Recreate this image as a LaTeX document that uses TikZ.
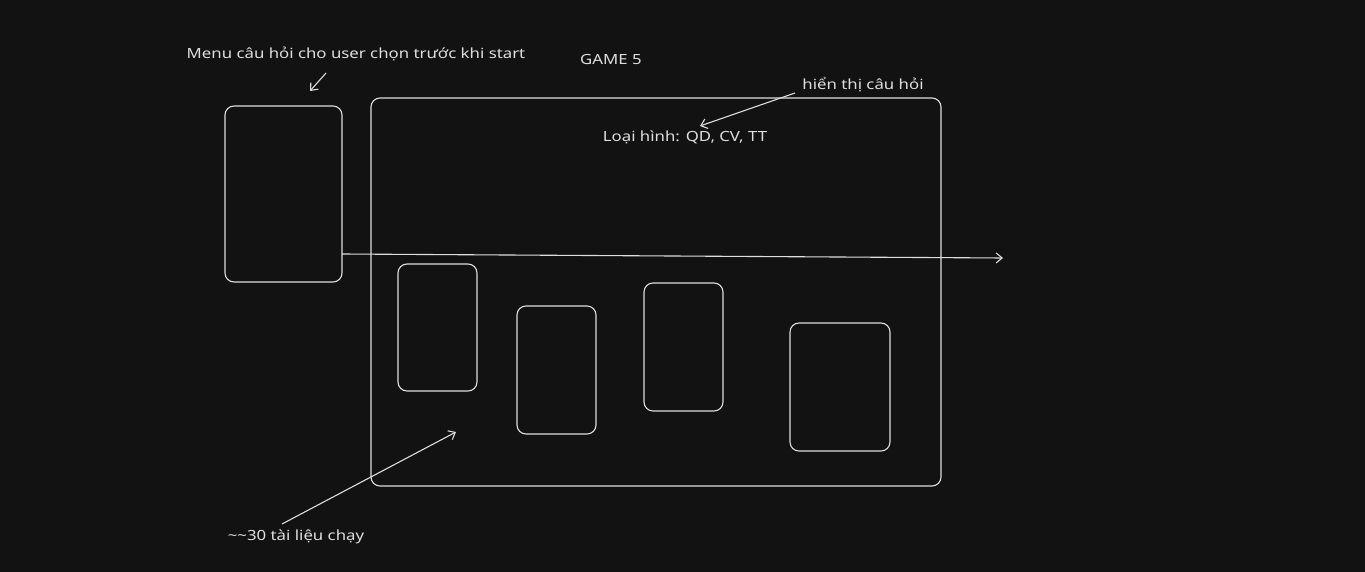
\documentclass[tikz,border=0pt]{standalone}
\usepackage{fontspec}
\setmainfont{Noto Sans}
\usetikzlibrary{arrows.meta}
\definecolor{bg}{HTML}{121212}
\definecolor{ink}{HTML}{DEDEDE}
\tikzset{
  sketch/.style={draw=ink, line width=1.1pt, rounded corners=9pt},
  lbl/.style={text=ink, font=\fontsize{14}{16}\selectfont, inner sep=0pt, xscale=1.2},
  arr/.style={draw=ink, line width=1.1pt, -{Straight Barb[length=6pt,width=10pt]}},
}
\begin{document}
\begin{tikzpicture}[x=1pt,y=-1pt]
\fill[bg] (0,0) rectangle (1365,572);
\useasboundingbox (0,0) rectangle (1365,572);
% boxes
\draw[sketch] (225,106) rectangle (342,282);
\draw[sketch] (371,98) rectangle (941,486);
\draw[sketch] (398,264) rectangle (477,391);
\draw[sketch] (517,306) rectangle (596,434);
\draw[sketch] (644,283) rectangle (723,411);
\draw[sketch] (790,323) rectangle (890,451);
% texts
\node[lbl] (menutxt) at (356,54) {Menu câu hỏi cho user chọn trước khi start};
\node[lbl] (game) at (611,60) {GAME 5};
\node[lbl] (hien) at (863,85) {hiển thị câu hỏi};
\node[lbl] (loai) at (685,137) {Loại hình: QD, CV, TT};
\node[lbl] (tai) at (296,537) {\textasciitilde\textasciitilde30 tài liệu chạy};
% connectors
\coordinate (m1) at (326,73);
\coordinate (m2) at (310,91);
\draw[arr] (m1) -- (m2);
\coordinate (hstart) at (342,254);
\coordinate (hend) at (1003,258);
\draw[arr] (hstart) -- (hend);
\coordinate (h1) at (795,93);
\coordinate (h2) at (700,126);
\draw[arr] (h1) -- (h2);
\coordinate (t1) at (282,524);
\coordinate (t2) at (456,432);
\draw[arr] (t1) -- (t2);
\end{tikzpicture}
\end{document}
